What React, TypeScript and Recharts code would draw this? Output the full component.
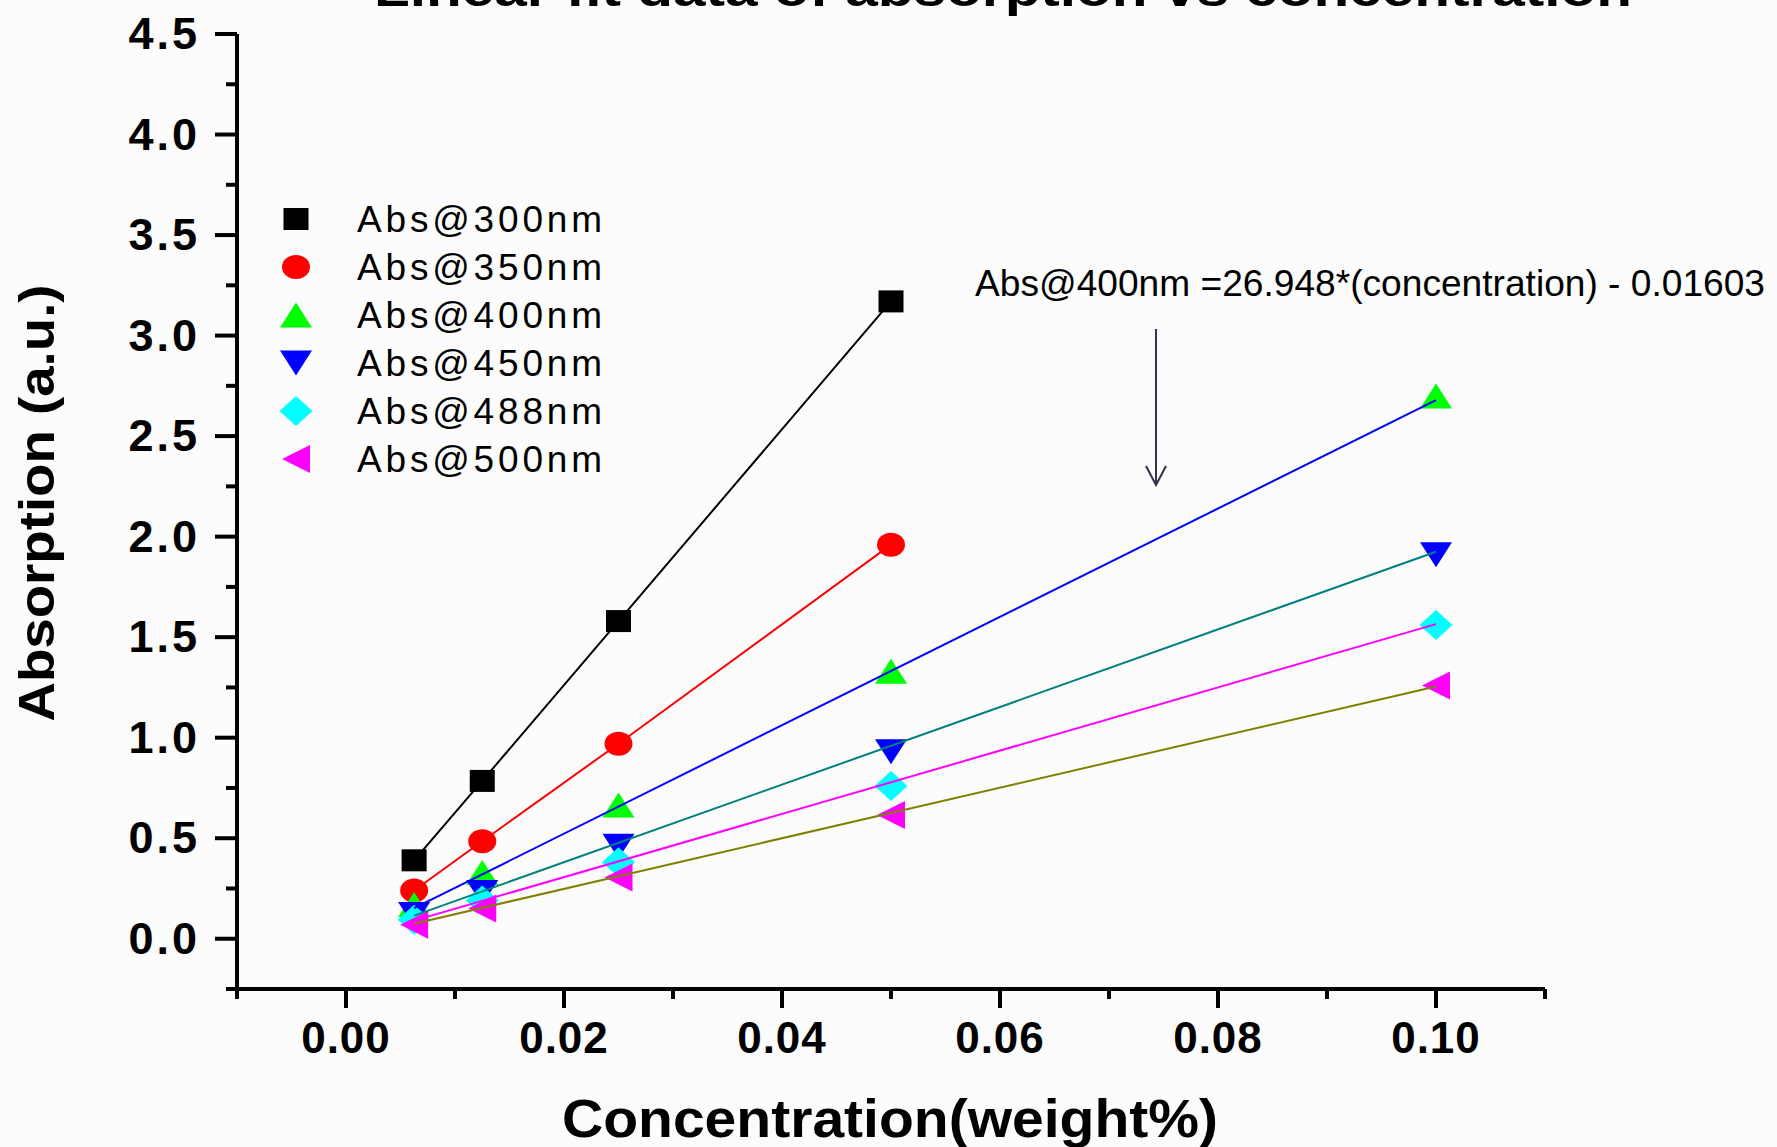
import { ScatterChart, Scatter, XAxis, YAxis } from "recharts";

// concentration (weight%) and absorption readings
const concentrations = [0.00625, 0.0125, 0.025, 0.05, 0.1];
const abs300 = [0.39, 0.785, 1.58, 3.17];
const abs350 = [0.24, 0.485, 0.97, 1.96];
const abs400 = [0.17, 0.33, 0.665, 1.33, 2.7];
const abs450 = [0.12, 0.23, 0.46, 0.93, 1.91];
const abs488 = [0.095, 0.19, 0.38, 0.76, 1.56];
const abs500 = [0.07, 0.15, 0.305, 0.615, 1.26];

// linear fit end points
const fitX = [0.00625, 0.1];
const fit400 = [0.152, 2.679];
const fit450 = [0.115, 1.925];
const fit488 = [0.09, 1.565];
const fit500 = [0.075, 1.255];

const xTicks = [-0.01, 0, 0.01, 0.02, 0.03, 0.04, 0.05, 0.06, 0.07, 0.08, 0.09, 0.1, 0.11];
const yTicks = [
  -0.25, 0, 0.25, 0.5, 0.75, 1, 1.25, 1.5, 1.75, 2, 2.25, 2.5, 2.75, 3, 3.25, 3.5, 3.75, 4,
  4.25, 4.5,
];

const legendNames = ["Abs@300nm", "Abs@350nm", "Abs@400nm", "Abs@450nm", "Abs@488nm", "Abs@500nm"];

const pts = (xs: number[], ys: number[]) => ys.map((y, i) => ({ x: xs[i], y }));

const FONT = "'Liberation Sans', Arial, sans-serif";

const Square = ({ cx, cy, fill }: any) => (
  <rect x={cx - 12.5} y={cy - 11} width={25} height={22} fill={fill} />
);
const Circle = ({ cx, cy, fill }: any) => <ellipse cx={cx} cy={cy} rx={14} ry={12} fill={fill} />;
const TriUp = ({ cx, cy, fill }: any) => (
  <polygon points={`${cx},${cy - 12.5} ${cx + 16},${cy + 12.5} ${cx - 16},${cy + 12.5}`} fill={fill} />
);
const TriDown = ({ cx, cy, fill }: any) => (
  <polygon points={`${cx - 16},${cy - 12.5} ${cx + 16},${cy - 12.5} ${cx},${cy + 12.5}`} fill={fill} />
);
const Diamond = ({ cx, cy, fill }: any) => (
  <polygon points={`${cx},${cy - 15} ${cx + 16.5},${cy} ${cx},${cy + 15} ${cx - 16.5},${cy}`} fill={fill} />
);
const TriLeft = ({ cx, cy, fill }: any) => (
  <polygon points={`${cx - 14},${cy} ${cx + 14},${cy - 14} ${cx + 14},${cy + 14}`} fill={fill} />
);
const NoShape = () => <g />;

const shapes = [Square, Circle, TriUp, TriDown, Diamond, TriLeft];
const colors = ["#000000", "#ff0000", "#00ff00", "#0000ff", "#00ffff", "#ff00ff"];

const XTick = ({ x, y, payload }: any) => {
  const v = payload.value;
  const k = Math.round(v * 100);
  const major = k >= 0 && k <= 10 && k % 2 === 0;
  return (
    <g>
      <line x1={x} y1={y} x2={x} y2={y + (major ? 19 : 10)} stroke="#000" strokeWidth={4} />
      {major && (
        <text
          x={x}
          y={y + 64}
          textAnchor="middle"
          fontFamily={FONT}
          fontWeight="bold"
          fontSize={44}
          letterSpacing={1}
          fill="#000"
        >
          {v.toFixed(2)}
        </text>
      )}
    </g>
  );
};

const YTick = ({ x, y, payload }: any) => {
  const v = payload.value;
  const k = Math.round(v * 4);
  const major = k >= 0 && k % 2 === 0;
  return (
    <g>
      <line x1={x - (major ? 22 : 11)} y1={y} x2={x} y2={y} stroke="#000" strokeWidth={4} />
      {major && (
        <text
          x={x - 37}
          y={y + 15}
          textAnchor="end"
          fontFamily={FONT}
          fontWeight="bold"
          fontSize={45}
          letterSpacing={3}
          fill="#000"
        >
          {v.toFixed(1)}
        </text>
      )}
    </g>
  );
};

export default function App() {
  const series = [abs300, abs350, abs400, abs450, abs488, abs500];
  const fits = [
    { d: fit400, c: "#0000ff" },
    { d: fit450, c: "#008080" },
    { d: fit488, c: "#ff00ff" },
    { d: fit500, c: "#808000" },
  ];
  return (
    <div style={{ position: "fixed", left: 0, top: 0, width: 1777, height: 1147, background: "#fcfcfc" }}>
      <ScatterChart width={1777} height={1147} margin={{ top: 34, right: 232, bottom: 98, left: 157 }}>
        <XAxis
          type="number"
          dataKey="x"
          domain={[-0.01, 0.11]}
          ticks={xTicks}
          interval={0}
          allowDataOverflow
          height={60}
          tickSize={0}
          tickMargin={0}
          tickLine={false}
          axisLine={{ stroke: "#000", strokeWidth: 4 }}
          tick={<XTick />}
        />
        <YAxis
          type="number"
          dataKey="y"
          domain={[-0.25, 4.5]}
          ticks={yTicks}
          interval={0}
          allowDataOverflow
          width={80}
          tickSize={0}
          tickMargin={0}
          tickLine={false}
          axisLine={{ stroke: "#000", strokeWidth: 4 }}
          tick={<YTick />}
        />
        {series.map((s, i) => {
          const S = shapes[i];
          return (
            <Scatter
              key={legendNames[i]}
              name={legendNames[i]}
              data={pts(concentrations, s)}
              fill={colors[i]}
              shape={<S />}
              isAnimationActive={false}
            />
          );
        })}
        <Scatter
          data={pts(concentrations, abs300)}
          line={{ stroke: "#000000", strokeWidth: 2 }}
          shape={<NoShape />}
          isAnimationActive={false}
        />
        <Scatter
          data={pts(concentrations, abs350)}
          line={{ stroke: "#ff0000", strokeWidth: 2 }}
          shape={<NoShape />}
          isAnimationActive={false}
        />
        {fits.map((f, i) => (
          <Scatter
            key={"fit" + i}
            data={pts(fitX, f.d)}
            line={{ stroke: f.c, strokeWidth: 2 }}
            shape={<NoShape />}
            isAnimationActive={false}
          />
        ))}
      </ScatterChart>
      <svg
        width={1777}
        height={1147}
        style={{ position: "absolute", left: 0, top: 0, pointerEvents: "none" }}
      >
        <text
          x={1003}
          y={6}
          textAnchor="middle"
          fontFamily={FONT}
          fontWeight="bold"
          fontSize={48}
          textLength={1258}
          lengthAdjust="spacingAndGlyphs"
        >
          Linear fit data of absorption vs concentration
        </text>
        {legendNames.map((n, i) => {
          const S = shapes[i];
          const cy = 219 + i * 48;
          return (
            <g key={n}>
              <S cx={296} cy={cy} fill={colors[i]} />
              <text x={357} y={cy + 13} fontFamily={FONT} fontSize={37} textLength={245} lengthAdjust="spacing">
                {n}
              </text>
            </g>
          );
        })}
        <text x={975} y={296} fontFamily={FONT} fontSize={37} textLength={790} lengthAdjust="spacingAndGlyphs">
          Abs@400nm =26.948*(concentration) - 0.01603
        </text>
        <line x1={1156} y1={329} x2={1156} y2={485} stroke="#33334d" strokeWidth={2} />
        <polyline points="1146,466 1156,485 1166,466" fill="none" stroke="#33334d" strokeWidth={2} />
        <text
          transform="translate(54,503) rotate(-90)"
          textAnchor="middle"
          fontFamily={FONT}
          fontWeight="bold"
          fontSize={50}
          textLength={437}
          lengthAdjust="spacingAndGlyphs"
        >
          Absorption (a.u.)
        </text>
        <text
          x={890}
          y={1137}
          textAnchor="middle"
          fontFamily={FONT}
          fontWeight="bold"
          fontSize={54}
          textLength={656}
          lengthAdjust="spacingAndGlyphs"
        >
          Concentration(weight%)
        </text>
      </svg>
    </div>
  );
}
